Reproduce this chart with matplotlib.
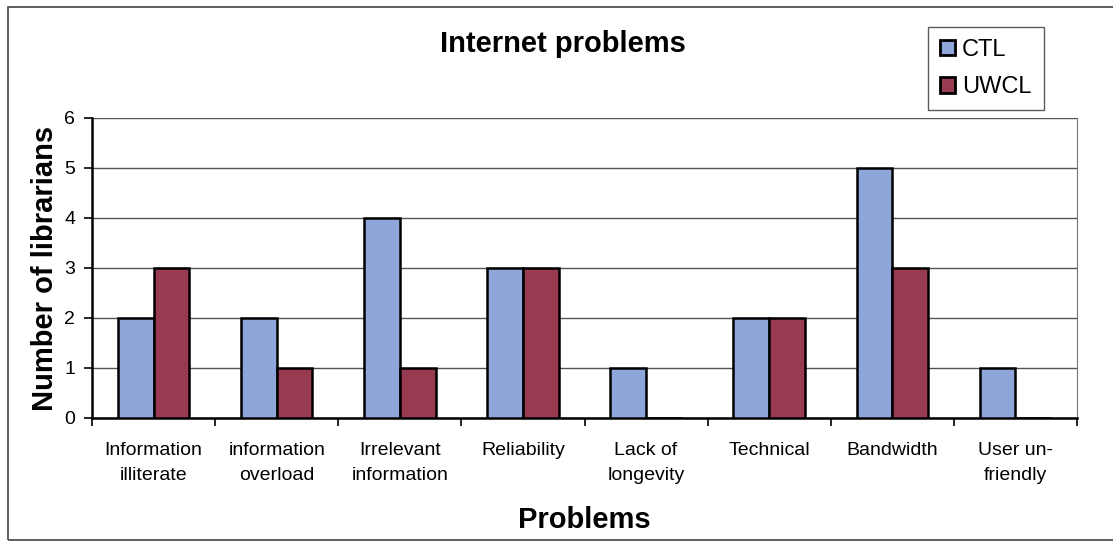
import numpy as np
import matplotlib.pyplot as plt
from matplotlib.patches import Rectangle

plt.rcParams['font.family'] = ['Liberation Sans', 'DejaVu Sans']

categories = ['Information\nilliterate', 'information\noverload', 'Irrelevant\ninformation',
              'Reliability', 'Lack of\nlongevity', 'Technical', 'Bandwidth', 'User un-\nfriendly']
ctl = [2, 2, 4, 3, 1, 2, 5, 1]
uwcl = [3, 1, 1, 3, 0, 2, 3, 0]

W, H = 1113, 544
fig = plt.figure(figsize=(W / 100, H / 100), dpi=100)
ax = fig.add_axes([92 / W, 1 - 418 / H, (1077 - 92) / W, (418 - 118) / H])

x = np.arange(len(categories))
bw = 0.29
ax.bar(x - bw / 2, ctl, bw, color='#8fa6da', edgecolor='black', linewidth=1.8, label='CTL', zorder=3)
ax.bar(x + bw / 2, uwcl, bw, color='#983a50', edgecolor='black', linewidth=1.8, label='UWCL', zorder=3)

ax.set_xlim(-0.5, len(categories) - 0.5)
ax.set_ylim(0, 6)
ax.set_yticks(range(0, 7))
ax.yaxis.grid(True, color='#555555', linewidth=1.0, zorder=0)
# category boundaries get the tick marks, labels sit at the centres
ax.set_xticks(np.arange(-0.5, len(categories), 1.0))
ax.set_xticklabels([])
ax.set_xticks(x, minor=True)
ax.set_xticklabels(categories, minor=True, fontsize=14, linespacing=1.65)
ax.tick_params(axis='x', which='minor', length=0, pad=17)
ax.tick_params(axis='x', which='major', length=6, width=1.2, direction='out')
ax.tick_params(axis='y', labelsize=14, length=6, width=1.2, direction='out', pad=6)

ax.spines['top'].set_visible(False)
ax.spines['right'].set_color('#777777')
ax.spines['left'].set_linewidth(1.8)
ax.spines['bottom'].set_linewidth(1.8)

ax.set_ylabel('Number of librarians', fontsize=21, fontweight='bold', labelpad=4)
ax.set_xlabel('Problems', fontsize=21, fontweight='bold', labelpad=16)
fig.text(563 / W, 1 - 44 / H, 'Internet problems', fontsize=21, fontweight='bold',
         ha='center', va='center')

leg = fig.legend(loc='upper left', bbox_to_anchor=(928 / W, 1 - 27 / H), fontsize=17,
                 frameon=True, fancybox=False, edgecolor='#333333', handlelength=0.65,
                 handleheight=0.65, handletextpad=0.3, borderpad=0.5, labelspacing=0.65,
                 borderaxespad=0)
leg.get_frame().set_linewidth(1.0)
for p in leg.get_patches():
    p.set_edgecolor('black')
    p.set_linewidth(2)

fig.patches.append(Rectangle((8 / W, 1 - 540 / H), (W + 5 - 8) / W, (540 - 7) / H,
                             transform=fig.transFigure, fill=False, edgecolor='#444444',
                             linewidth=1.2))

fig.savefig('out.png', dpi=100)
